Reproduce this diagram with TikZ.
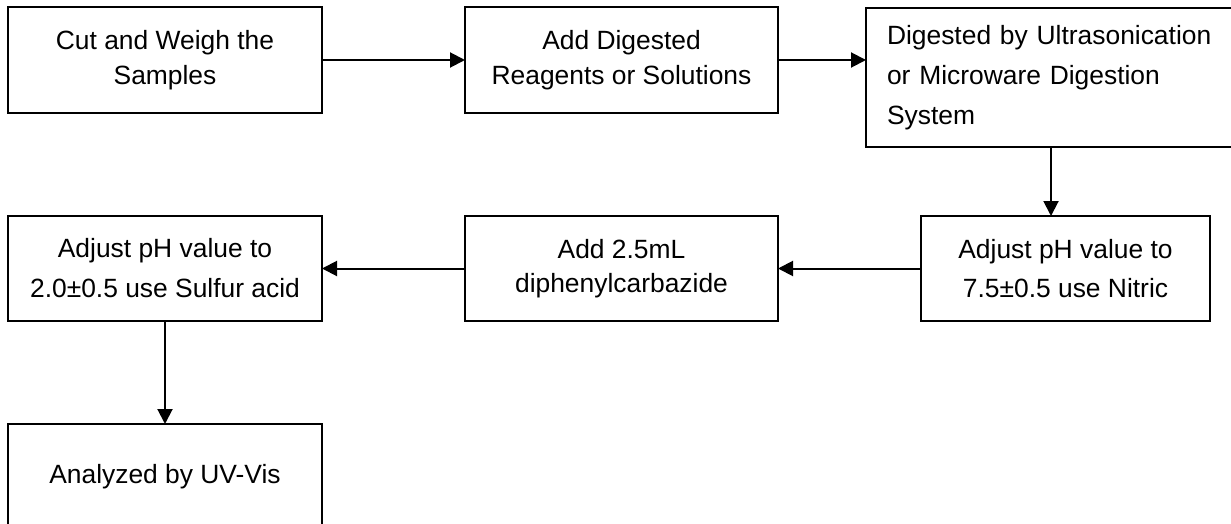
\documentclass[tikz,border=0pt]{standalone}
\usepackage{fontspec}
\setmainfont{Liberation Sans}
\usepackage{tikz}
\usetikzlibrary{arrows.meta,positioning}

\begin{document}
\begin{tikzpicture}[node distance=0 cm,outer sep = 0pt,inner sep = 0pt]
        \tikzset{stepbox/.style={align=center,shape=rectangle,minimum height=53pt,minimum width=157pt,draw,line width=1pt,font=\fontsize{13.2pt}{17.5pt}\selectfont}}
        \tikzset{flow/.style={-{Triangle[length=7.5pt,width=7.5pt]},line width=1pt}}

        \useasboundingbox (0,0) rectangle (615.5pt,-262pt);
        \clip (0,0) rectangle (615.5pt,-262pt);

        \node [stepbox,anchor=north west] (cut) at (4pt,-3.5pt) {Cut and Weigh the\\Samples};
        \node [stepbox,right=71.5pt of cut,minimum width=156.5pt] (reagent) {Add Digested\\Reagents or Solutions};
        \node [stepbox,right=44pt of reagent,yshift=-8.75pt,align=left,minimum height=69.5pt,text width=164pt,inner xsep=10.5pt,font=\fontsize{13.2pt}{20pt}\selectfont] (digest) {Digested by Ultrasonication\\or Microware Digestion\\System};
        \node [stepbox,below=34.5pt of digest,xshift=7.25pt,minimum width=144.5pt,minimum height=52.5pt,font=\fontsize{13.2pt}{19.7pt}\selectfont] (nitric) {Adjust pH value to\\7.5±0.5 use Nitric};
        \node [stepbox,left=71.5pt of nitric,minimum width=156.5pt,minimum height=52.5pt,font=\fontsize{13.2pt}{16.7pt}\selectfont] (dpc) {Add 2.5mL\\diphenylcarbazide};
        \node [stepbox,left=71.5pt of dpc,minimum height=52.5pt,font=\fontsize{13.2pt}{20pt}\selectfont] (sulfur) {Adjust pH value to\\2.0±0.5 use Sulfur acid};
        \node [stepbox,below=51.5pt of sulfur,minimum height=52.5pt] (uvvis) {Analyzed by UV-Vis};

        \draw [flow] (cut) -- (reagent);
        \draw [flow] (reagent.east) -- (reagent.east -| digest.west);
        \draw [flow] (digest.south) -- (digest.south |- nitric.north);
        \draw [flow] (nitric) -- (dpc);
        \draw [flow] (dpc) -- (sulfur);
        \draw [flow] (sulfur) -- (uvvis);

    \end{tikzpicture}
\end{document}
